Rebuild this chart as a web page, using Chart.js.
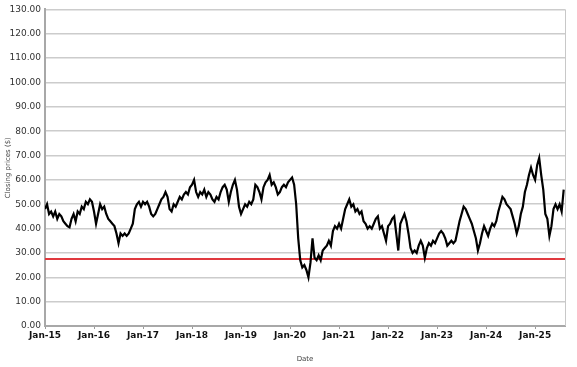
<!DOCTYPE html>
<html>
<head>
<meta charset="utf-8">
<script src="https://cdn.jsdelivr.net/npm/chart.js@4/dist/chart.umd.min.js"></script>
<style>
html,body{margin:0;padding:0;background:#fff;}
#wrap{width:577px;height:367px;position:relative;}
</style>
</head>
<body>
<div id="wrap"><canvas id="c" width="577" height="367"></canvas></div>
<script>
// Semi-monthly closing prices (two readings per month)
const startYear = 2015;
const prices2015 = [48,50,46,47,45,47,44,46,45,43,42,41,40.5,44,46,43,47,46,49,48,51,50,52,51];
const prices2016 = [47,42,46,50,48,49,46,44,43,42,41,38,34,38,37,38,37,38,40,42,48,50,51,49];
const prices2017 = [51,50,51,49,46,45,46,48,50,52,53,55,53,48,47,50,49,51,53,52,54,55,54,57];
const prices2018 = [58,60,55,53,55,54,56,53,55,54,52,51,53,52,55,57,58,56,51,55,58,60,56,49];
const prices2019 = [46,48,50,49,51,50,52,58,57,55,52,57,59,60,62,58,59,57,54,55,57,58,57,59];
const prices2020 = [60,61,58,50,36,27,24,25,23,20,26,36,28,27,29,27,31,32,33,35,33,39,41,40];
const prices2021 = [42,40,44,48,50,52,49,50,47,48,46,47,43,42,40,41,40,42,44,45,40,41,38,35];
const prices2022 = [41,42,44,45,38,31,42,44,46,43,38,32,30,31,30,33,35,33,28,32,34,33,35,34];
const prices2023 = [36,38,39,38,36,33,34,35,34,35,39,43,46,49,48,46,44,42,39,36,31,34,38,41];
const prices2024 = [39,37,40,42,41,43,47,50,53,52,50,49,48,45,42,38,41,46,49,55,58,62,65,62];
const prices2025 = [60,66,69,62,56,46,44,37,41,48,50,48,50,47,56];
const yearSeries = [prices2015,prices2016,prices2017,prices2018,prices2019,prices2020,prices2021,prices2022,prices2023,prices2024,prices2025];
const tickLabels = ['Jan-15','Jan-16','Jan-17','Jan-18','Jan-19','Jan-20','Jan-21','Jan-22','Jan-23','Jan-24','Jan-25'];
const referenceLevel = 27.5;
const yTickLabelsMax = 130;

const pricePoints = [];
yearSeries.forEach((arr, yi) => {
  arr.forEach((v, i) => pricePoints.push({x: startYear + yi + i / 24, y: v}));
});
const xMax = 2025.61;

const borderPlugin = {
  id: 'rightBorder',
  afterDraw(chart) {
    const {ctx, chartArea} = chart;
    ctx.save();
    ctx.strokeStyle = '#c8c8c8';
    ctx.lineWidth = 1;
    ctx.beginPath();
    ctx.moveTo(chartArea.right + 0.5, chartArea.top);
    ctx.lineTo(chartArea.right + 0.5, chartArea.bottom);
    ctx.stroke();
    ctx.restore();
  }
};

new Chart(document.getElementById('c'), {
  type: 'line',
  data: {
    datasets: [
      {
        data: pricePoints,
        borderColor: '#000',
        borderWidth: 2.2,
        pointRadius: 0,
        tension: 0,
        order: 1
      },
      {
        data: [{x: startYear, y: referenceLevel}, {x: xMax, y: referenceLevel}],
        borderColor: '#e0393e',
        borderWidth: 2,
        pointRadius: 0,
        order: 2
      }
    ]
  },
  options: {
    responsive: false,
    animation: false,
    layout: {padding: {left: 0, right: 12, top: -2, bottom: 0}},
    plugins: {legend: {display: false}, tooltip: {enabled: false}},
    scales: {
      x: {
        type: 'linear',
        min: startYear,
        max: xMax,
        afterBuildTicks(scale) {
          scale.ticks = tickLabels.map((_, i) => ({value: startYear + i}));
        },
        afterFit(scale) { scale.height = 41; },
        grid: {display: true, drawOnChartArea: false, drawTicks: true, tickLength: 3, color: '#999'},
        border: {display: true, color: '#a8a8a8', width: 2},
        ticks: {
          autoSkip: false,
          maxRotation: 0,
          padding: 1,
          color: '#111',
          font: {family: 'DejaVu Sans', size: 9, weight: 'bold'},
          callback: (v) => tickLabels[Math.round(v - startYear)]
        },
        title: {display: true, text: 'Date', color: '#444', font: {family: 'DejaVu Sans', size: 7}, padding: {top: 14}}
      },
      y: {
        min: 0,
        max: yTickLabelsMax,
        afterFit(scale) { scale.width = 45; },
        grid: {color: '#cccccc', lineWidth: 1.5, drawTicks: false},
        border: {display: true, color: '#a8a8a8', width: 2},
        ticks: {
          stepSize: 10,
          padding: 4,
          color: '#333',
          font: {family: 'DejaVu Sans', size: 9},
          callback: (v) => v.toFixed(2)
        },
        title: {display: true, text: 'Closing prices ($)', color: '#444', font: {family: 'DejaVu Sans', size: 7}, padding: {bottom: 2}}
      }
    }
  },
  plugins: [borderPlugin]
});
</script>
</body>
</html>
